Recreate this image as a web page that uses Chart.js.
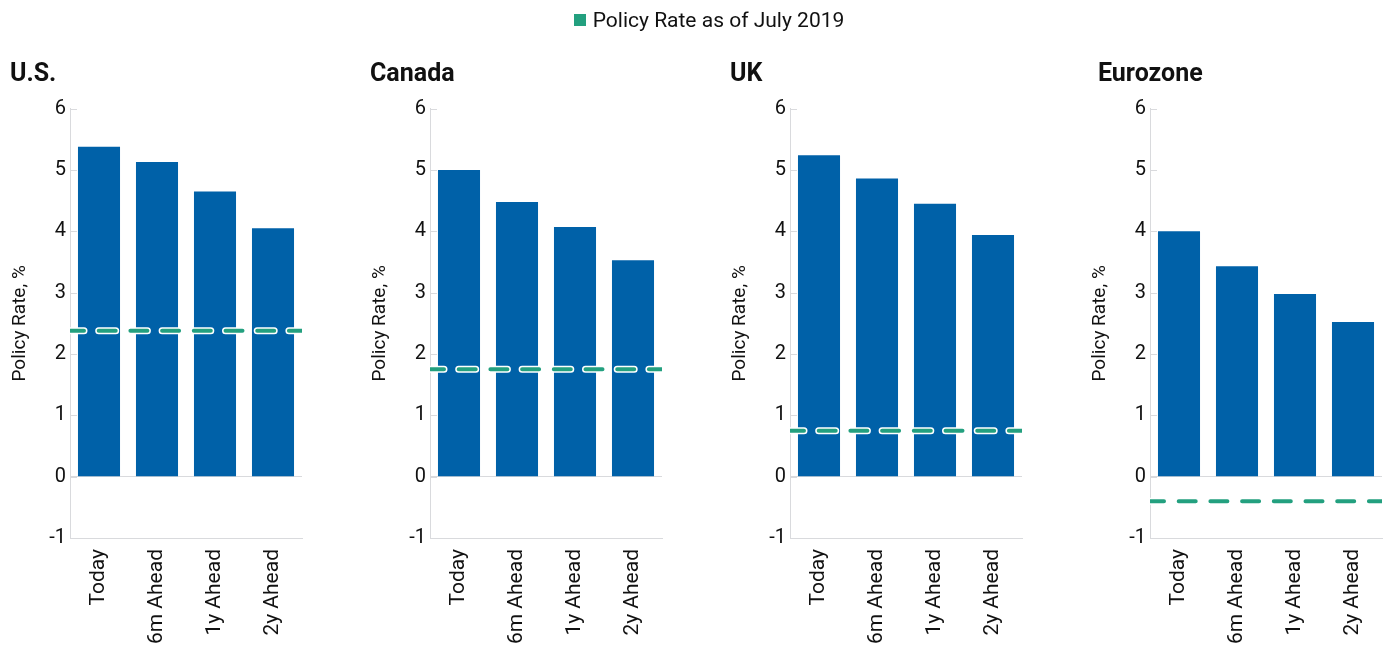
<!DOCTYPE html>
<html>
<head>
<meta charset="utf-8">
<script src="https://cdn.jsdelivr.net/npm/chart.js@4"></script>
<style>
  html, body { margin: 0; padding: 0; background: #fff; }
  body { width: 1386px; height: 646px; position: relative; overflow: hidden; font-family: Roboto, sans-serif; }
  .panel { position: absolute; top: 0; height: 646px; }
  #legend { position: absolute; top: 7px; left: 0; width: 1418px; text-align: center; font-size: 21px; line-height: 26px; color: #111; z-index: 5; pointer-events: none; }
  #legend .sw { display: inline-block; width: 12px; height: 12px; background: #23A07F; margin-right: 7px; vertical-align: 1px; }
</style>
</head>
<body>
<div id="legend"><span class="sw"></span><span>Policy Rate as of July 2019</span></div>
<div class="panel" style="left:0px;width:306px"><canvas id="c0"></canvas></div>
<div class="panel" style="left:360px;width:306px"><canvas id="c1"></canvas></div>
<div class="panel" style="left:720px;width:306px"><canvas id="c2"></canvas></div>
<div class="panel" style="left:1080px;width:306px"><canvas id="c3"></canvas></div>
<script>
// ---- data ----
const categories = ['Today', '6m Ahead', '1y Ahead', '2y Ahead'];
const regions = ['U.S.', 'Canada', 'UK', 'Eurozone'];
const usRates = [5.38, 5.13, 4.65, 4.05];
const canadaRates = [5.00, 4.48, 4.07, 3.53];
const ukRates = [5.24, 4.86, 4.45, 3.94];
const eurozoneRates = [4.00, 3.43, 2.98, 2.52];
const policyRateJuly2019 = [2.38, 1.75, 0.75, -0.40];
const yMin = -1, yMax = 6, yStep = 1;
const axisTitle = 'Policy Rate, %';
const legendLabel = 'Policy Rate as of July 2019';

const regionRates = [usRates, canadaRates, ukRates, eurozoneRates];

// ---- styles ----
const BAR = '#0061A8';
const GREEN = '#23A07F';
const GRID = '#D9DADD';
const TEXT = '#111111';
Chart.defaults.font.family = 'Roboto, "Noto Sans", sans-serif';
Chart.defaults.color = TEXT;

const innerTicks = {
  id: 'innerTicks',
  beforeDatasetsDraw(chart) {
    const y = chart.scales.y, ctx = chart.ctx, x0 = chart.chartArea.left;
    ctx.save();
    ctx.strokeStyle = GRID; ctx.lineWidth = 1;
    y.ticks.forEach(t => {
      if (t.value === yMin) return;
      const py = Math.round(y.getPixelForValue(t.value)) + 0.5;
      ctx.beginPath(); ctx.moveTo(x0, py); ctx.lineTo(x0 + 7, py); ctx.stroke();
    });
    ctx.restore();
  }
};

const titleLeft = [10, 10, 10, 18];

regions.forEach((name, i) => {
  const padL = titleLeft[i];
  const rate = policyRateJuly2019[i];
  const mkLine = () => [{x: 0, y: rate}, {x: 1, y: rate}];
  new Chart(document.getElementById('c' + i), {
    type: 'bar',
    data: {
      labels: categories,
      datasets: [
        {
          type: 'line', label: legendLabel, data: mkLine(), xAxisID: 'x2',
          borderColor: GREEN, borderWidth: 4, borderDash: [17, 14.7], borderDashOffset: 3,
          borderCapStyle: 'round', pointRadius: 0, order: 0, fill: false
        },
        {
          type: 'line', label: 'outline', data: mkLine(), xAxisID: 'x2',
          borderColor: '#FFFFFF', borderWidth: 7, borderDash: [17, 14.7], borderDashOffset: 3,
          borderCapStyle: 'round', pointRadius: 0, order: 1, fill: false
        },
        {
          type: 'bar', label: name, data: regionRates[i], xAxisID: 'x',
          backgroundColor: BAR, borderWidth: 0, grouped: false,
          categoryPercentage: 1, barPercentage: 0.725, order: 2
        }
      ]
    },
    options: {
      responsive: true, maintainAspectRatio: false, animation: false,
      layout: { padding: { left: padL, right: 4, top: 0, bottom: 0 } },
      plugins: {
        legend: { display: false },
        tooltip: { enabled: false },
        title: {
          display: true, text: name, align: 'start', color: TEXT,
          font: { size: 25, weight: 'bold', lineHeight: 1.2 },
          padding: { top: 60, bottom: 18.7 }
        }
      },
      scales: {
        x: {
          type: 'category', position: 'bottom', offset: true,
          grid: { display: false, drawTicks: false },
          border: { display: true, color: GRID, width: 1 },
          ticks: { autoSkip: false, maxRotation: 90, minRotation: 90, padding: 11, color: TEXT, font: { size: 21 } },
          afterFit(s) { s.height = 108; s.paddingLeft = 0; s.paddingRight = 0; }
        },
        x2: { type: 'linear', min: 0, max: 1, display: false, offset: false, grid: { offset: false } },
        y: {
          min: yMin, max: yMax,
          ticks: { stepSize: yStep, padding: 4, color: TEXT, font: { size: 20 } },
          grid: {
            drawTicks: false,
            color: ctx => (ctx.tick && ctx.tick.value === 0) ? GRID : 'rgba(0,0,0,0)',
            lineWidth: 1
          },
          border: { display: true, color: GRID, width: 1 },
          title: { display: true, text: axisTitle, color: TEXT, font: { size: 19 }, padding: { top: 8.6 - padL, bottom: 0 } },
          afterFit(s) { s.width = 70 - padL; }
        }
      }
    },
    plugins: [innerTicks]
  });
});
</script>
</body>
</html>
